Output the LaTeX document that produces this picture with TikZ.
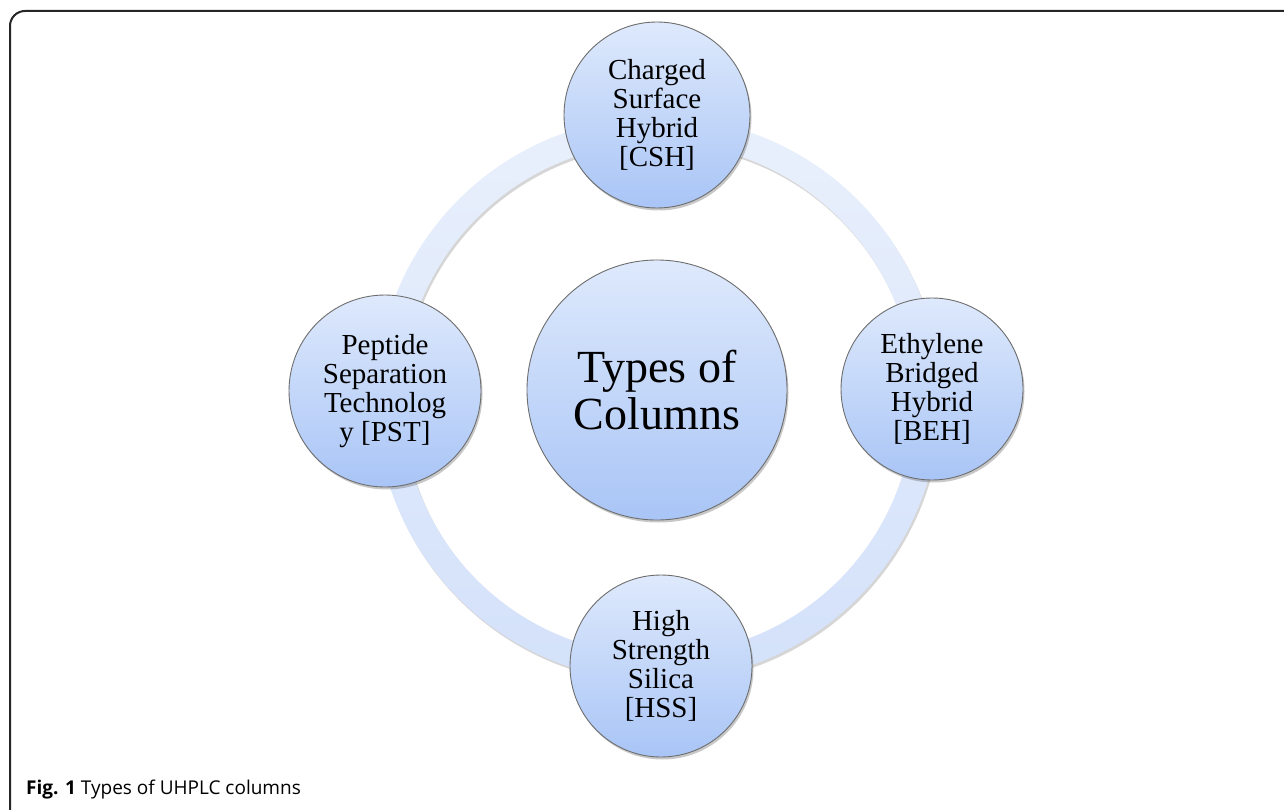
\documentclass[tikz,border=0pt]{standalone}
\usepackage{fontspec}
\setmainfont{Liberation Serif}
\newfontfamily\capfont{Open Sans}
\usetikzlibrary{shadows}
\definecolor{ctop}{HTML}{DEE9FC}
\definecolor{cbot}{HTML}{A9C5F6}
\definecolor{rtop}{HTML}{E9F0FC}
\definecolor{rbot}{HTML}{D3E1FA}
\definecolor{edgegray}{HTML}{6E6E6E}
\begin{document}
\begin{tikzpicture}[x=1pt,y=-1pt,
  bubble/.style={circle, draw=edgegray, line width=0.9pt, top color=ctop, bottom color=cbot,
    align=center, inner sep=0pt, font=\fontsize{29}{29}\selectfont,
    drop shadow={shadow xshift=1.5pt, shadow yshift=-2.5pt, opacity=0.3, fill=black!70}},
  hub/.style={bubble, font=\fontsize{46}{47}\selectfont},
  framestyle/.style={line width=2pt, draw=black!85, rounded corners=15pt}]
\useasboundingbox (0,0) rectangle (1284,810);
\clip (0,0) rectangle (1284,810);
\fill[white] (0,0) rectangle (1284,810);
\draw[framestyle] (1320,11) -- (10,11) -- (10,840);
\coordinate (o) at (657,390);
\coordinate (rc) at (658,399);
% ring shadow and ring
\fill[black, opacity=0.16, even odd rule] ([shift={(1.5,2.5)}]rc) circle[radius=282] circle[radius=256];
\path[top color=rtop, bottom color=rbot, even odd rule] (rc) circle[radius=282] circle[radius=256];
% nodes
\node[hub, minimum size=260] (hub) at (o) {Types of\\Columns};
\node[bubble, minimum size=186] (csh) at (657,115) {Charged\\Surface\\Hybrid\\{[CSH]}};
\node[bubble, minimum size=182] (beh) at (932,389) {Ethylene\\Bridged\\Hybrid\\{[BEH]}};
\node[bubble, minimum size=182] (hss) at (661,666) {High\\Strength\\Silica\\{[HSS]}};
\node[bubble, minimum size=192] (pst) at (385,391) {Peptide\\Separation\\Technolog\\y [PST]};
% caption
\node[anchor=base west, inner sep=0pt, font=\capfont\fontsize{19}{19}\selectfont] (cap) at (26,794) {\textbf{Fig. 1} Types of UHPLC columns};
\end{tikzpicture}
\end{document}
